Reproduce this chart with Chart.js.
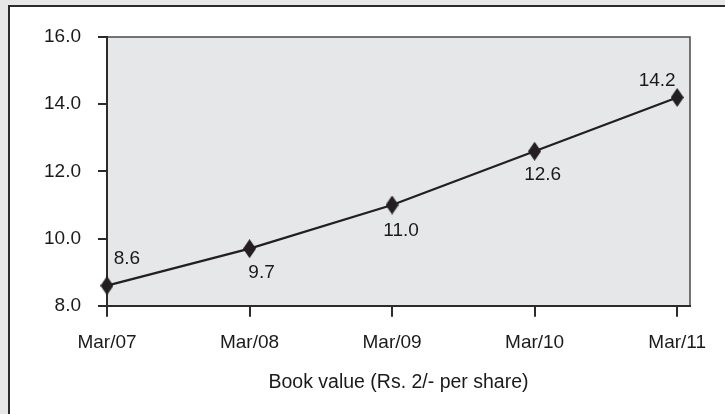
<!DOCTYPE html>
<html>
<head>
<meta charset="utf-8">
<script src="https://cdn.jsdelivr.net/npm/chart.js"></script>
<style>
  html, body { margin: 0; padding: 0; background: #e7e7e7; width: 725px; height: 414px; overflow: hidden; }
  #frame { position: absolute; left: 8px; top: 5px; width: 730px; height: 420px; background: #fff;
           border-left: 2px solid #2b2b2b; border-top: 2px solid #2b2b2b; }
  #wrap { position: absolute; left: 0; top: 0; width: 725px; height: 414px; }
</style>
</head>
<body>
<div id="frame"></div>
<div id="wrap"><canvas id="bookChart"></canvas></div>
<script>
const categories = ['Mar/07', 'Mar/08', 'Mar/09', 'Mar/10', 'Mar/11'];
const bookValues = [8.6, 9.7, 11.0, 12.6, 14.2];
const yTicks = [8, 10, 12, 14, 16];

// label offsets from each point (px)
const labelOffsets = [[20, -27], [12, 24], [9, 26], [8, 24], [-20, -17]];

const textColor = '#1a1a1a';
const lineColor = '#231f20';
const fontFamily = '"Liberation Sans", Arial, sans-serif';

// tall diamond marker
const marker = document.createElement('canvas');
marker.width = 13;
marker.height = 19;
(function () {
  const m = marker.getContext('2d');
  m.fillStyle = lineColor;
  m.beginPath();
  m.moveTo(6.5, 0);
  m.lineTo(13, 9.5);
  m.lineTo(6.5, 19);
  m.lineTo(0, 9.5);
  m.closePath();
  m.fill();
})();

const plotBox = {
  id: 'plotBox',
  beforeDraw(chart) {
    const { ctx, chartArea: a } = chart;
    ctx.save();
    ctx.fillStyle = '#e6e7e8';
    ctx.fillRect(a.left, a.top, a.right - a.left, a.bottom - a.top);
    ctx.strokeStyle = '#4a4a4a';
    ctx.lineWidth = 1.5;
    ctx.strokeRect(a.left, a.top, a.right - a.left, a.bottom - a.top);
    ctx.restore();
  }
};

const pointLabels = {
  id: 'pointLabels',
  afterDatasetsDraw(chart) {
    const { ctx } = chart;
    const meta = chart.getDatasetMeta(0);
    ctx.save();
    ctx.font = '19px ' + fontFamily;
    ctx.fillStyle = textColor;
    ctx.textAlign = 'center';
    ctx.textBaseline = 'middle';
    meta.data.forEach((pt, i) => {
      const off = labelOffsets[i];
      ctx.fillText(bookValues[i].toFixed(1), pt.x + off[0], pt.y + off[1]);
    });
    ctx.restore();
  }
};

new Chart(document.getElementById('bookChart').getContext('2d'), {
  type: 'line',
  data: {
    datasets: [{
      data: bookValues.map((v, i) => ({ x: i, y: v })),
      borderColor: lineColor,
      borderWidth: 2.3,
      pointStyle: marker,
      pointRadius: 9,
      tension: 0,
      clip: false
    }]
  },
  options: {
    responsive: true,
    maintainAspectRatio: false,
    animation: false,
    layout: { padding: { left: 27, top: 37, right: 35, bottom: 16 } },
    plugins: {
      legend: { display: false },
      tooltip: { enabled: false }
    },
    scales: {
      x: {
        type: 'linear',
        min: 0,
        max: 4.09,
        afterBuildTicks(scale) {
          scale.ticks = categories.map((c, i) => ({ value: i }));
        },
        grid: { drawOnChartArea: false, drawTicks: true, tickLength: 11, color: '#2b2b2b', lineWidth: 2 },
        border: { color: '#2b2b2b', width: 2 },
        ticks: {
          padding: 15,
          maxRotation: 0,
          autoSkip: false,
          color: textColor,
          font: { family: fontFamily, size: 19 },
          callback: v => categories[v]
        },
        title: {
          display: true,
          text: 'Book value (Rs. 2/- per share)',
          color: textColor,
          font: { family: fontFamily, size: 19.5 },
          padding: { top: 1 }
        }
      },
      y: {
        min: 8,
        max: 16,
        afterBuildTicks(scale) {
          scale.ticks = yTicks.map(v => ({ value: v }));
        },
        grid: { drawOnChartArea: false, drawTicks: true, tickLength: 9, color: '#2b2b2b', lineWidth: 2 },
        border: { color: '#2b2b2b', width: 2 },
        ticks: {
          padding: 17,
          color: textColor,
          font: { family: fontFamily, size: 19 },
          callback: v => Number(v).toFixed(1)
        }
      }
    }
  },
  plugins: [plotBox, pointLabels]
});
</script>
</body>
</html>
